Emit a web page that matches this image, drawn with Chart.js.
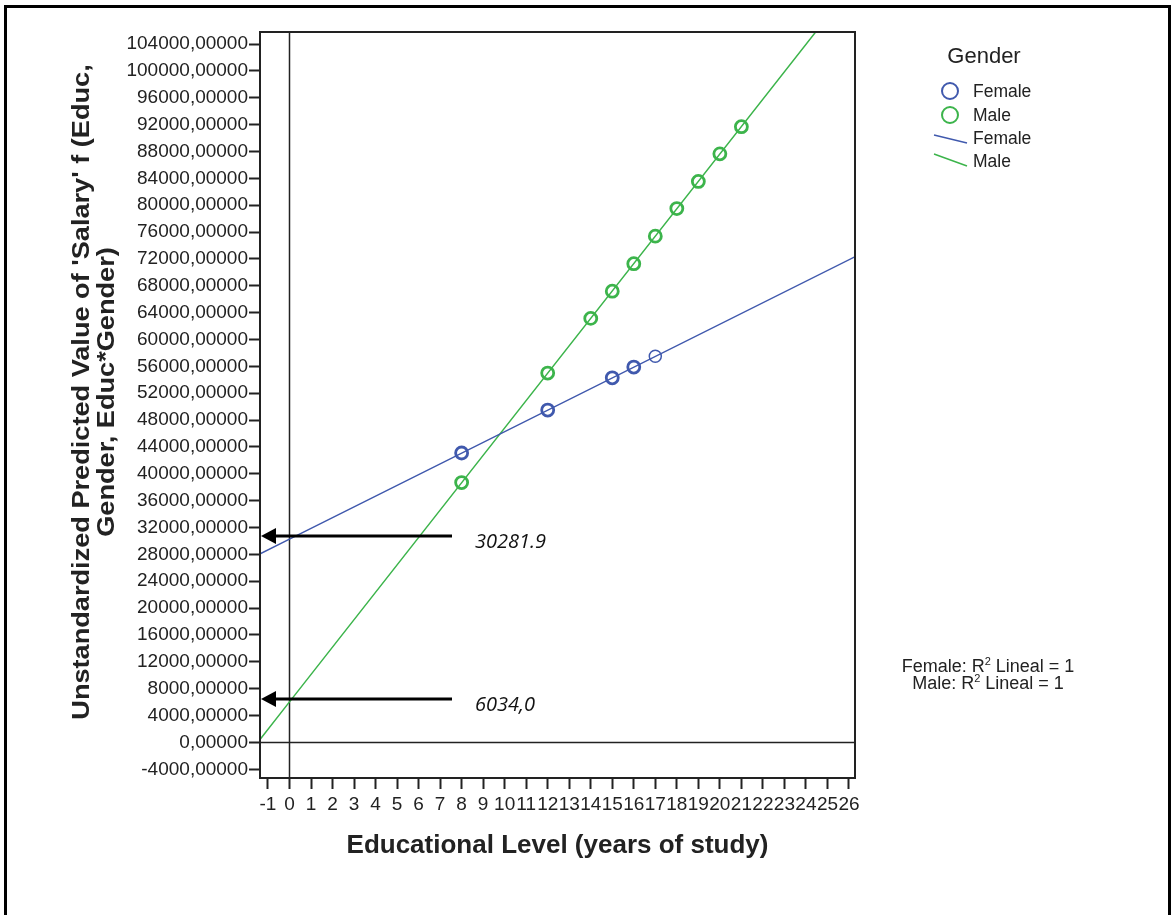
<!DOCTYPE html>
<html>
<head>
<meta charset="utf-8">
<title>Predicted salary by educational level and gender</title>
<script src="https://cdn.jsdelivr.net/npm/chart.js@4/dist/chart.umd.min.js"></script>
<style>
  html, body { margin: 0; padding: 0; background: #fff; }
  #wrap { width: 1171px; height: 915px; position: relative; }
</style>
</head>
<body>
<div id="wrap"><canvas id="c" width="1171" height="915"></canvas></div>
<script>
// ---- data ----
const xTicks = [-1, 0, 1, 2, 3, 4, 5, 6, 7, 8, 9, 10, 11, 12, 13, 14, 15, 16, 17, 18, 19, 20, 21, 22, 23, 24, 25, 26];
const yTicks = [-4000, 0, 4000, 8000, 12000, 16000, 20000, 24000, 28000, 32000, 36000, 40000, 44000, 48000,
                52000, 56000, 60000, 64000, 68000, 72000, 76000, 80000, 84000, 88000, 92000, 96000, 100000, 104000];

// predicted salary at each observed education level
const femaleEduc   = [8, 12, 15, 16, 17];
const femaleSalary = [43100, 49500, 54300, 55900, 57500];
const maleEduc     = [8, 12, 14, 15, 16, 17, 18, 19, 20, 21];
const maleSalary   = [38700, 55000, 63150, 67200, 71300, 75400, 79500, 83550, 87650, 91700];

// fitted lines (R² = 1), extending across the whole plot
const femaleFitEduc   = [-2, 0, 27];
const femaleFitSalary = [27082, 30281.9, 73482];
const maleFitEduc     = [-2, 0, 27];
const maleFitSalary   = [-2126, 6034.0, 116194];

// intercepts marked with arrows
const interceptValues = [30281.9, 6034.0];
const interceptLabels = ['30281.9', '6034,0'];

const xTitle = 'Educational Level (years of study)';
const yTitle = ["Unstandardized Predicted Value of 'Salary' f (Educ,", 'Gender, Educ*Gender)'];
const legendTitle = 'Gender';
const groupNames = ['Female', 'Male'];
const fitNotes = ['Female: R', 'Male: R'];

const FONT = "'Liberation Sans', Arial, Helvetica, sans-serif";
const BLUE = '#4059ad';
const GREEN = '#3cb44b';
const INK = '#222222';

const pts = (xs, ys) => xs.map((x, i) => ({ x: x, y: ys[i] }));

// ---- extras: frame, reference lines, arrows, legend, fit notes, y title ----
const decorations = {
  id: 'decorations',
  beforeDatasetsDraw(chart) {
    const { ctx, chartArea: a, scales: { x, y } } = chart;
    ctx.save();
    ctx.strokeStyle = INK;
    ctx.lineWidth = 1.5;
    const x0 = Math.round(x.getPixelForValue(0)) + 0.5;
    const y0 = Math.round(y.getPixelForValue(0)) + 0.5;
    ctx.beginPath();
    ctx.moveTo(x0, a.top); ctx.lineTo(x0, a.bottom);
    ctx.moveTo(a.left, y0); ctx.lineTo(a.right, y0);
    ctx.stroke();
    ctx.restore();
  },
  afterDraw(chart) {
    const { ctx, chartArea: a, scales: { y } } = chart;
    ctx.save();

    // outer frame
    ctx.strokeStyle = '#000';
    ctx.lineWidth = 3;
    ctx.beginPath();
    ctx.moveTo(5.5, 915); ctx.lineTo(5.5, 6.5); ctx.lineTo(1169.5, 6.5); ctx.lineTo(1169.5, 915);
    ctx.stroke();

    // plot box
    ctx.strokeStyle = INK;
    ctx.lineWidth = 2;
    ctx.strokeRect(a.left, a.top, a.right - a.left, a.bottom - a.top);

    // y axis title, two rotated lines stretched along the text direction
    ctx.save();
    ctx.fillStyle = INK;
    ctx.font = 'bold 23px ' + FONT;
    ctx.textAlign = 'center';
    ctx.textBaseline = 'middle';
    [83, 108].forEach((cx, i) => {
      ctx.save();
      ctx.translate(cx, 392);
      ctx.rotate(-Math.PI / 2);
      ctx.scale(1.18, 1);
      ctx.fillText(yTitle[i], 0, 0);
      ctx.restore();
    });
    ctx.restore();

    // intercept arrows
    interceptValues.forEach((v, i) => {
      const py = Math.round(y.getPixelForValue(v)) - 3;
      const tip = a.left + 1;
      ctx.strokeStyle = '#000';
      ctx.fillStyle = '#000';
      ctx.lineWidth = 3;
      ctx.beginPath();
      ctx.moveTo(tip + 12, py); ctx.lineTo(a.left + 192, py);
      ctx.stroke();
      ctx.beginPath();
      ctx.moveTo(tip, py); ctx.lineTo(tip + 15, py - 8); ctx.lineTo(tip + 15, py + 8); ctx.closePath();
      ctx.fill();
      ctx.font = "italic 20px 'Open Sans', " + FONT;
      ctx.textAlign = 'left';
      ctx.textBaseline = 'middle';
      ctx.fillStyle = '#111';
      ctx.fillText(interceptLabels[i], 475, py + 6);
    });

    // legend
    ctx.fillStyle = INK;
    ctx.textBaseline = 'middle';
    ctx.textAlign = 'center';
    ctx.font = '22px ' + FONT;
    ctx.fillText(legendTitle, 984, 57);
    ctx.textAlign = 'left';
    ctx.font = '17.5px ' + FONT;
    const colors = [BLUE, GREEN];
    [91, 115].forEach((cy, i) => {
      ctx.strokeStyle = colors[i];
      ctx.lineWidth = 2;
      ctx.beginPath();
      ctx.arc(950, cy, 8, 0, Math.PI * 2);
      ctx.stroke();
      ctx.fillStyle = INK;
      ctx.fillText(groupNames[i], 973, cy + 1);
    });
    [[135, 143, 139], [154, 166, 162]].forEach((r, i) => {
      ctx.strokeStyle = colors[i];
      ctx.lineWidth = 1.5;
      ctx.beginPath();
      ctx.moveTo(934, r[0]); ctx.lineTo(967, r[1]);
      ctx.stroke();
      ctx.fillStyle = INK;
      ctx.fillText(groupNames[i], 973, r[2]);
    });

    // fit notes with superscript
    const tail = ' Lineal = 1';
    [667, 684].forEach((ty, i) => {
      ctx.font = '18px ' + FONT;
      const w1 = ctx.measureText(fitNotes[i]).width;
      const w3 = ctx.measureText(tail).width;
      ctx.font = '11px ' + FONT;
      const w2 = ctx.measureText('2').width;
      const total = w1 + w2 + w3;
      let sx = 988 - total / 2;
      ctx.fillStyle = INK;
      ctx.textAlign = 'left';
      ctx.textBaseline = 'middle';
      ctx.font = '18px ' + FONT;
      ctx.fillText(fitNotes[i], sx, ty);
      sx += w1;
      ctx.font = '11px ' + FONT;
      ctx.fillText('2', sx, ty - 5);
      sx += w2;
      ctx.font = '18px ' + FONT;
      ctx.fillText(tail, sx, ty);
    });

    ctx.restore();
  }
};

new Chart(document.getElementById('c'), {
  type: 'scatter',
  data: {
    datasets: [
      {
        label: groupNames[0] + ' fit',
        data: pts(femaleFitEduc, femaleFitSalary),
        showLine: true,
        borderColor: BLUE,
        borderWidth: 1.5,
        pointRadius: 0,
        fill: false
      },
      {
        label: groupNames[1] + ' fit',
        data: pts(maleFitEduc, maleFitSalary),
        showLine: true,
        borderColor: GREEN,
        borderWidth: 1.5,
        pointRadius: 0,
        fill: false
      },
      {
        label: groupNames[0],
        data: pts(femaleEduc, femaleSalary),
        pointStyle: 'circle',
        pointRadius: 6,
        pointBorderWidth: [2.8, 2.8, 2.8, 2.8, 1.5],
        pointBorderColor: BLUE,
        pointBackgroundColor: 'rgba(0,0,0,0)'
      },
      {
        label: groupNames[1],
        data: pts(maleEduc, maleSalary),
        pointStyle: 'circle',
        pointRadius: 6,
        pointBorderWidth: 2.8,
        pointBorderColor: GREEN,
        pointBackgroundColor: 'rgba(0,0,0,0)'
      }
    ]
  },
  options: {
    responsive: false,
    animation: false,
    devicePixelRatio: 1,
    layout: { padding: { left: 70, top: 32, right: 316, bottom: 54 } },
    plugins: { legend: { display: false }, tooltip: { enabled: false } },
    scales: {
      x: {
        type: 'linear',
        min: -1.37,
        max: 26.28,
        afterBuildTicks: s => { s.ticks = xTicks.map(v => ({ value: v })); },
        afterFit: s => { s.height = 83; },
        grid: { drawOnChartArea: false, drawTicks: true, tickLength: 11, tickColor: INK, tickWidth: 2 },
        border: { display: true, color: INK, width: 2 },
        ticks: {
          autoSkip: false, maxRotation: 0, padding: 4, color: INK,
          font: { family: FONT, size: 19 },
          callback: v => String(v)
        },
        title: {
          display: true,
          text: xTitle,
          color: INK,
          padding: 0,
          font: { family: FONT, size: 26, weight: 'bold', lineHeight: 1.2 }
        }
      },
      y: {
        type: 'linear',
        min: -5300,
        max: 105800,
        afterBuildTicks: s => { s.ticks = yTicks.map(v => ({ value: v })); },
        afterFit: s => { s.width = 190; },
        grid: { drawOnChartArea: false, drawTicks: true, tickLength: 11, tickColor: INK, tickWidth: 2 },
        border: { display: true, color: INK, width: 2 },
        ticks: {
          autoSkip: false, padding: 1, color: INK,
          font: { family: FONT, size: 19 },
          callback: v => v.toFixed(5).replace('.', ',')
        },
        title: { display: false }
      }
    }
  },
  plugins: [decorations]
});
</script>
</body>
</html>
